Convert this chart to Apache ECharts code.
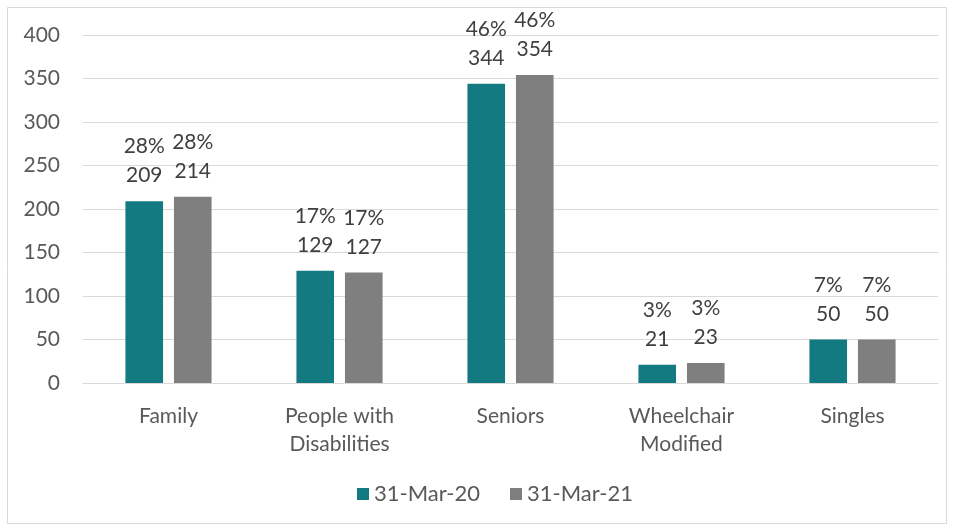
<!DOCTYPE html>
<html>
<head>
<meta charset="utf-8">
<script src="https://cdn.jsdelivr.net/npm/echarts@6/dist/echarts.min.js"></script>
<style>
  html, body { margin: 0; padding: 0; background: #fff; }
  #chart { width: 954px; height: 531px; }
</style>
</head>
<body>
<div id="chart"></div>
<script>
// Housing units by category
const categories = ['Family', 'People with\nDisabilities', 'Seniors', 'Wheelchair\nModified', 'Singles'];
const seriesNames = ['31-Mar-20', '31-Mar-21'];
const units2020 = [209, 129, 344, 21, 50];
const units2021 = [214, 127, 354, 23, 50];
const share2020 = ['28%', '17%', '46%', '3%', '7%'];
const share2021 = ['28%', '17%', '46%', '3%', '7%'];
const yTicks = { min: 0, max: 400, interval: 50 };

const FONT = 'Lato, "Open Sans", sans-serif';
const FS = 21;

function labelFor(shares) {
  return {
    show: true,
    position: 'top',
    distance: 11,
    fontFamily: FONT,
    fontSize: FS,
    color: '#404040',
    lineHeight: 29,
    formatter: p => shares[p.dataIndex] + '\n' + p.value
  };
}

const chart = echarts.init(document.getElementById('chart'));
chart.setOption({
  animation: false,
  textStyle: { fontFamily: FONT },
  graphic: [{
    type: 'rect',
    shape: { x: 7.5, y: 7.5, width: 939, height: 516 },
    style: { fill: 'none', stroke: '#d9d9d9', lineWidth: 1 },
    silent: true,
    z: -1
  }],
  grid: { left: 83, right: 16, top: 35, bottom: 148, containLabel: false },
  legend: {
    bottom: 21,
    left: 352,
    itemWidth: 12,
    itemHeight: 12,
    itemGap: 30,
    icon: 'rect',
    textStyle: { fontFamily: FONT, fontSize: 22, color: '#595959', padding: [0, 0, 0, 0] },
    data: seriesNames
  },
  xAxis: {
    type: 'category',
    data: categories,
    axisLine: { lineStyle: { color: '#d9d9d9', width: 1 } },
    axisTick: { show: false },
    axisLabel: {
      fontFamily: FONT, fontSize: FS, color: '#595959',
      lineHeight: 28, margin: 19, interval: 0
    }
  },
  yAxis: {
    type: 'value',
    min: yTicks.min, max: yTicks.max, interval: yTicks.interval,
    axisLine: { show: false },
    axisTick: { show: false },
    splitLine: { lineStyle: { color: '#d9d9d9', width: 1 } },
    axisLabel: { fontFamily: FONT, fontSize: FS, color: '#595959', margin: 23 }
  },
  series: [
    {
      name: seriesNames[0], type: 'bar', data: units2020,
      barWidth: '22%', barGap: '29%',
      itemStyle: { color: '#137A82' },
      label: labelFor(share2020)
    },
    {
      name: seriesNames[1], type: 'bar', data: units2021,
      barWidth: '22%', barGap: '29%',
      itemStyle: { color: '#7F7F7F' },
      label: labelFor(share2021)
    }
  ]
});
</script>
</body>
</html>
